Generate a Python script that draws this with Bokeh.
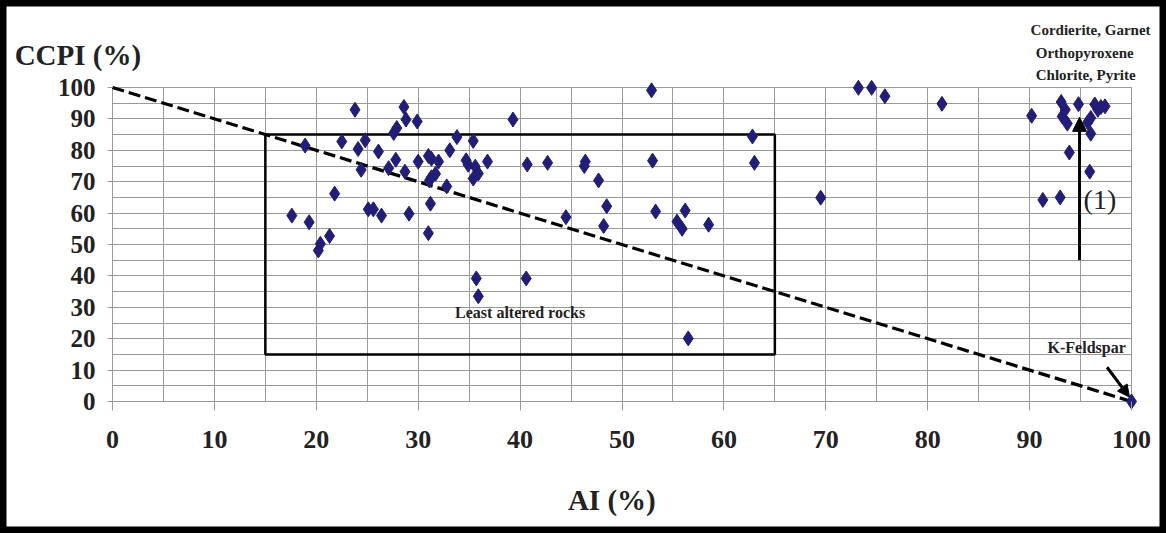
from bokeh.plotting import figure
from bokeh.models import Range1d, Label, Arrow, NormalHead, FixedTicker
from bokeh.embed import file_html
from bokeh.resources import INLINE

# Alteration index (AI, %) and chlorite-carbonate-pyrite index (CCPI, %)
ai = [23.8, 28.6, 28.8, 29.9, 39.3, 27.9, 27.6, 18.9, 22.5, 24.1, 24.8, 26.1,
      24.4, 27.1, 27.8, 28.7, 30.0, 31.0, 31.3, 32.0, 31.3, 31.7, 31.1, 32.8,
      33.1, 33.8, 35.4, 34.7, 34.9, 35.6, 35.9, 35.4, 36.8, 40.7, 42.7, 21.8,
      17.6, 19.3, 20.4, 20.2, 21.3, 25.1, 25.6, 26.4, 29.1, 31.2, 31.0, 35.7,
      35.9, 40.6, 52.9, 46.4, 46.3, 47.7, 48.5, 44.5, 48.2, 53.0, 53.3, 56.2,
      55.4, 55.9, 58.5, 62.8, 63.0, 56.5, 69.5, 73.2, 74.5, 75.8, 81.4, 90.2,
      93.1, 94.8, 93.5, 93.2, 93.7, 96.4, 97.0, 97.4, 96.7, 96.0, 95.7, 96.0,
      93.9, 95.9, 91.3, 93.0, 100.0]
ccpi = [92.9, 93.8, 89.8, 89.2, 89.8, 87.1, 85.5, 81.5, 82.8, 80.4, 83.2, 79.6,
        73.8, 74.3, 77.0, 73.2, 76.4, 78.2, 77.3, 76.4, 71.4, 72.5, 70.4, 68.5,
        80.0, 84.2, 83.0, 76.8, 75.4, 74.8, 72.6, 71.0, 76.4, 75.5, 76.0, 66.2,
        59.2, 57.1, 50.2, 48.1, 52.7, 61.2, 61.2, 59.2, 59.8, 63.0, 53.6, 39.2,
        33.5, 39.2, 99.1, 76.4, 75.0, 70.4, 62.2, 58.7, 55.9, 76.7, 60.5, 60.8,
        57.3, 55.0, 56.3, 84.4, 76.0, 20.1, 64.9, 99.9, 99.9, 97.2, 94.8, 91.0,
        95.4, 94.7, 92.9, 90.8, 88.5, 94.6, 93.8, 94.0, 92.9, 90.3, 88.9, 85.3,
        79.3, 73.2, 64.2, 65.0, 0.0]

# Reference trend from unaltered rock (0, 100) to K-feldspar (100, 0)
trend_ai = [0, 100]
trend_ccpi = [100, 0]

# Least-altered box limits
box_ai = [15, 65]
box_ccpi = [15, 85]

# Alteration trend arrow (1) and K-feldspar pointer
trend1_ai = [94.9, 94.9]
trend1_ccpi = [45, 90.5]
kfs_ai = [97.6, 99.8]
kfs_ccpi = [10.9, 1.4]

ticks = list(range(0, 101, 10))
minor = list(range(0, 101, 5))

SERIF = "Liberation Serif"
GRID = "#9a9a9a"

W, H = 1166, 533
# pixel position of the data origin and of (100, 100) inside the canvas
PX0, PX100 = 112, 1131
PY0, PY100 = 401, 87
sx = (PX100 - PX0) / 100.0
sy = (PY0 - PY100) / 100.0

p = figure(width=W, height=H, output_backend="svg", toolbar_location=None,
           x_range=Range1d(-PX0 / sx, (W - PX0) / sx),
           y_range=Range1d(-(H - PY0) / sy, 100 + PY100 / sy),
           min_border=0)

p.background_fill_color = "white"
p.border_fill_color = "white"
# thick black frame round the whole figure
p.outline_line_color = "black"
p.outline_line_width = 12

for ax in (p.xaxis[0], p.yaxis[0]):
    ax.fixed_location = 0
    ax.bounds = (0, 100)
    ax.ticker = FixedTicker(ticks=ticks, minor_ticks=minor)
    ax.axis_line_color = None
    ax.major_tick_line_color = GRID
    ax.major_tick_in = 0
    ax.minor_tick_line_color = None
    ax.major_label_text_font = SERIF
    ax.major_label_text_font_style = "bold"
    ax.major_label_text_color = "#222222"

p.xaxis.major_tick_out = 9
p.xaxis.major_label_standoff = 20
p.xaxis.major_label_text_font_size = "26px"
p.yaxis.major_tick_out = 5
p.yaxis.major_label_standoff = 12
p.yaxis.major_label_text_font_size = "25px"

for g in (p.xgrid[0], p.ygrid[0]):
    g.bounds = (0, 100)
    g.cross_bounds = (0, 100)
    g.grid_line_color = GRID
    g.grid_line_width = 1
    g.minor_grid_line_color = GRID
    g.minor_grid_line_width = 1

# Least altered rocks field
p.line([box_ai[0], box_ai[1], box_ai[1], box_ai[0], box_ai[0]],
       [box_ccpi[1], box_ccpi[1], box_ccpi[0], box_ccpi[0], box_ccpi[1]],
       line_color="black", line_width=2.5)

# Dashed trend line
p.line(trend_ai, trend_ccpi, line_color="black", line_width=3.2, line_dash="12 5")

# Samples
p.scatter(ai, ccpi, marker="diamond", size=15, fill_color="#221d76",
          line_color="#221d76")

p.add_layout(Arrow(end=NormalHead(size=14, fill_color="black", line_color="black"),
                   x_start=trend1_ai[0], y_start=trend1_ccpi[0],
                   x_end=trend1_ai[1], y_end=trend1_ccpi[1],
                   line_width=3, line_color="black"))
p.add_layout(Arrow(end=NormalHead(size=12, fill_color="black", line_color="black"),
                   x_start=kfs_ai[0], y_start=kfs_ccpi[0],
                   x_end=kfs_ai[1], y_end=kfs_ccpi[1],
                   line_width=3, line_color="black"))


def label(x, y, text, size, align="left", baseline="middle", style="bold"):
    p.add_layout(Label(x=x, y=y, text=text, text_font=SERIF,
                       text_font_size=size, text_font_style=style,
                       text_color="#222222", text_align=align,
                       text_baseline=baseline))


label(-9.6, 110.2, "CCPI (%)", "29px")
label(49.0, -31.5, "AI (%)", "29px", align="center")
label(40.0, 28.4, "Least altered rocks", "16px", align="center")
label(95.6, 17.3, "K-Feldspar", "16px", align="center")
label(96.9, 64.2, "(1)", "28px", align="center", style="normal")
label(90.1, 118.2, "Cordierite, Garnet", "15px")
label(90.6, 111.1, "Orthopyroxene", "15px")
label(90.6, 104.1, "Chlorite, Pyrite", "15px")

open("out.html", "w").write(file_html(p, INLINE))
